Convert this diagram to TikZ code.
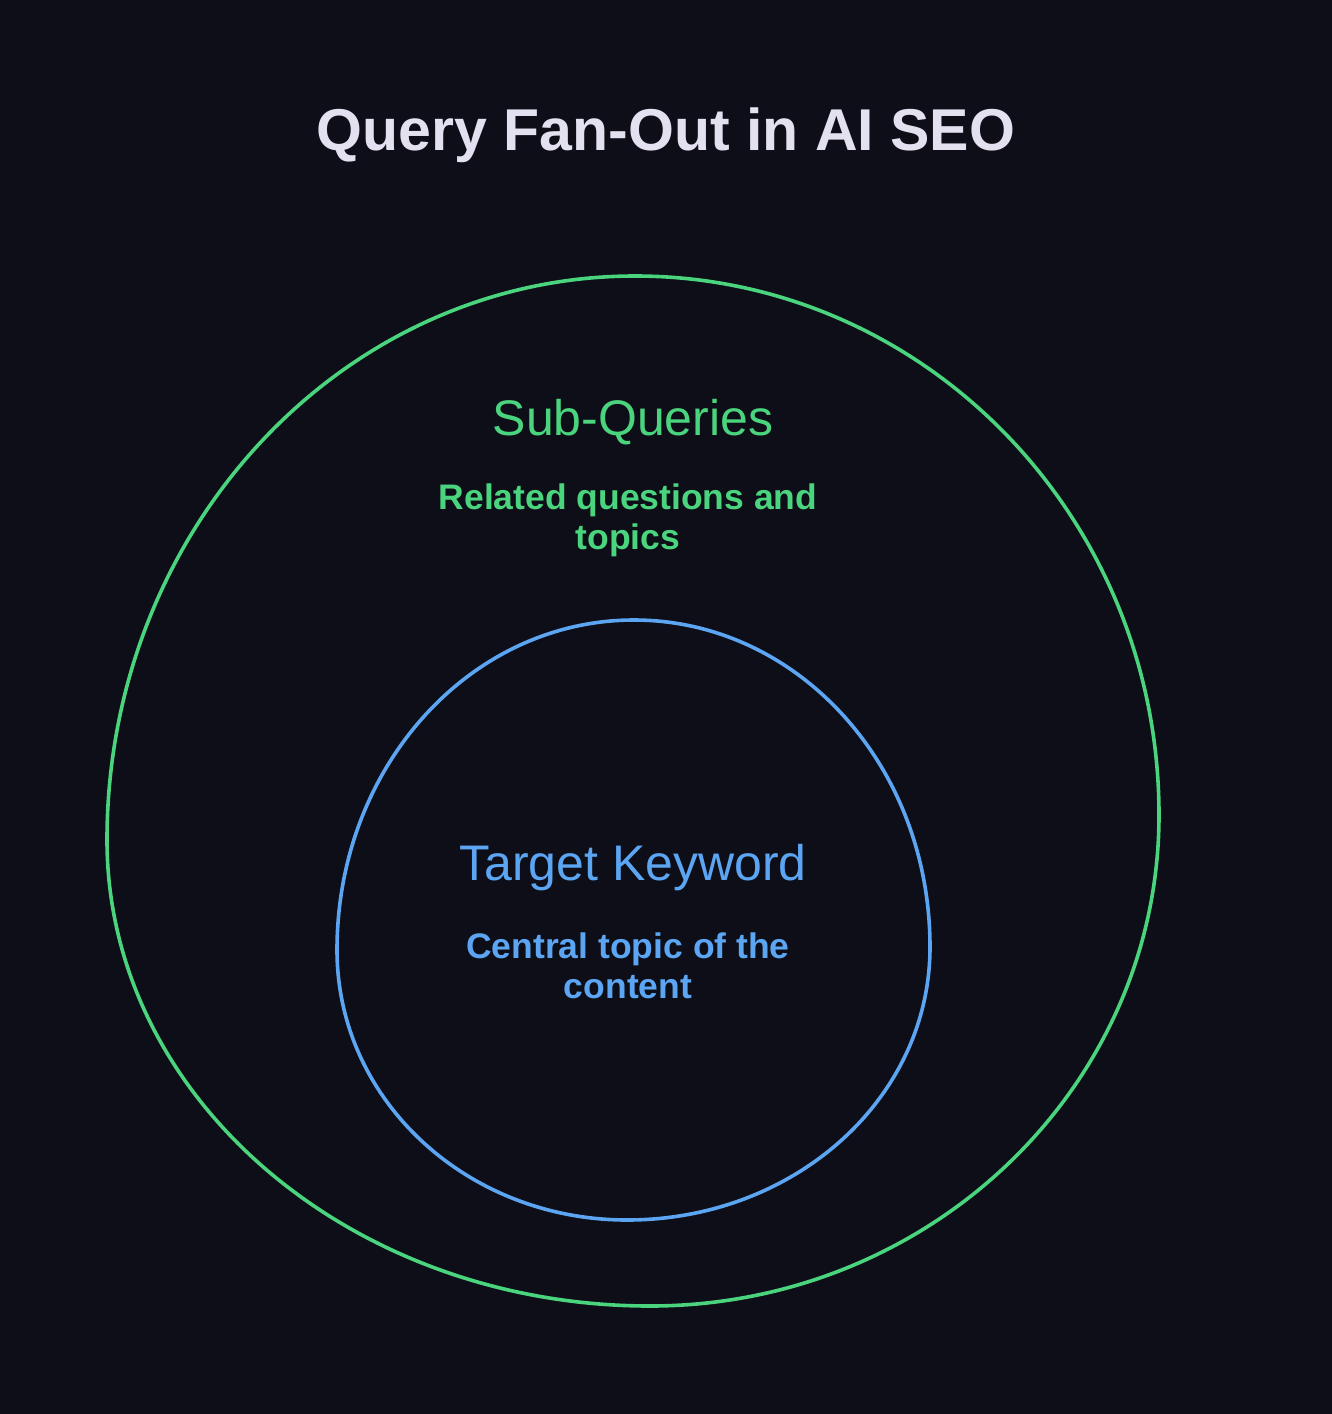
\documentclass[tikz,border=0pt]{standalone}
\usepackage{fontspec}
\setmainfont{Liberation Sans}
\definecolor{bgc}{HTML}{0D0E17}
\definecolor{titlec}{HTML}{E3E0F0}
\definecolor{greenc}{HTML}{4AD47E}
\definecolor{bluec}{HTML}{5CA5F2}
\tikzset{
  ring/.style={line width=3.6pt},
  titletext/.style={anchor=base, inner sep=0pt, text=titlec, font=\fontsize{59}{70}\selectfont\bfseries},
  headtext/.style={anchor=base, inner sep=0pt, font=\fontsize{50}{60}\selectfont},
  subtext/.style={anchor=base, inner sep=0pt, font=\fontsize{35.5}{42}\selectfont\bfseries},
}
\begin{document}
\begin{tikzpicture}[x=1pt,y=-1pt]
\fill[bgc] (0,0) rectangle (1332,1414);
\useasboundingbox (0,0) rectangle (1332,1414);

% outer green ring
\draw[ring, greenc] (635,276) .. controls (924,276) and (1159,517) .. (1159,815)
  .. controls (1159,1086) and (931,1306) .. (650,1306)
  .. controls (350,1306) and (107,1097) .. (107,840)
  .. controls (107,529) and (343,276) .. (635,276) -- cycle;

% inner blue ring
\draw[ring, bluec] (634,620) .. controls (797,620) and (930,765) .. (930,947)
  .. controls (930,1099) and (794,1220) .. (627,1220)
  .. controls (467,1220) and (337,1100) .. (337,950)
  .. controls (337,767) and (470,620) .. (634,620) -- cycle;

\node[titletext] (title) at (666,150) {Query Fan-Out in AI SEO};

\node[headtext, text=greenc] (subq) at (633,435) {Sub-Queries};
\node[subtext, text=greenc] (subq1) at (628,509) {Related questions and};
\node[subtext, text=greenc] (subq2) at (628,549) {topics};

\node[headtext, text=bluec] (target) at (633,880) {Target Keyword};
\node[subtext, text=bluec] (target1) at (628,958) {Central topic of the};
\node[subtext, text=bluec] (target2) at (628,998) {content};
\end{tikzpicture}
\end{document}
